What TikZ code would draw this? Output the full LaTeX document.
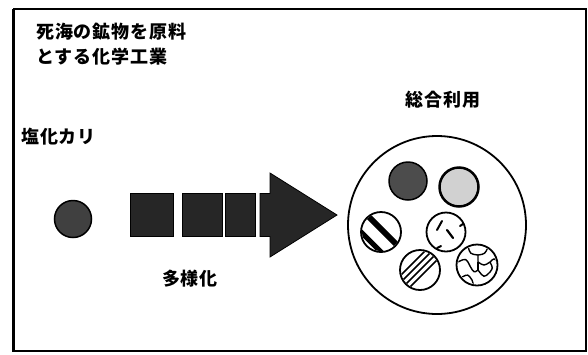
\documentclass[tikz,border=0pt]{standalone}
\usepackage{fontspec}
\usetikzlibrary{calc}
\newfontfamily\jp{Noto Sans CJK JP}[LetterSpace=5]
\begin{document}
\begin{tikzpicture}[x=1pt,y=-1pt,
  lbl/.style={font=\jp\bfseries\fontsize{18}{22}\selectfont, inner sep=0pt},
  sq/.style={fill=black!85, draw=black, line width=0.8pt},
  disc/.style={draw=black, line width=1.8pt, fill=white},
]
\useasboundingbox (0,0) rectangle (588,354);
% frame
\draw[line width=1.5pt] (13,9) -- (586,9) -- (586,351) -- (13,351);
\draw[line width=3pt] (13,8.5) -- (13,351.5);
% titles
\node[lbl, anchor=west] (t1) at (36,32) {死海の鉱物を原料};
\node[lbl, anchor=west] (t2) at (36,57) {とする化学工業};
\node[lbl, anchor=west] (kcl) at (21,137) {塩化カリ};
\node[lbl] (div) at (190,279) {多様化};
\node[lbl] (tot) at (443,100) {総合利用};
% left dot
\node[circle, minimum size=37pt, inner sep=0pt, fill=black!75, draw=black, line width=1.5pt] (dot) at (73,219) {};
% squares
\node[sq, minimum width=43pt, minimum height=43pt, inner sep=0pt] (s1) at (151.5,215) {};
\node[sq, minimum width=40pt, minimum height=43pt, inner sep=0pt] (s2) at (202,215) {};
\node[sq, minimum width=30pt, minimum height=43pt, inner sep=0pt] (s3) at (240,215) {};
% arrow
\coordinate (ab) at (260,215);
\fill[black!85, draw=black, line width=0.8pt] (260,193.5) -- (270,193.5) -- (270,173) -- (337,215) -- (270,257) -- (270,236.5) -- (260,236.5) -- cycle;
% big circle
\node[circle, draw=black, line width=1.8pt, minimum size=178pt, inner sep=0pt] (big) at (437,225) {};
% small circles
\node[circle, minimum size=38pt, inner sep=0pt, fill=black!70, draw=black, line width=1.5pt] (c1) at (408,181) {};
\node[circle, minimum size=39pt, inner sep=0pt, fill=black!18, draw=black, line width=2.5pt] (c2) at (459,187) {};
% c3 stripes
\node[circle, minimum size=40pt, inner sep=0pt, disc] (c3) at (381,232) {};
\begin{scope}
\clip (c3.center) circle (19pt);
\draw[line width=6pt] ($(c3.center)+(-20,-23)$) -- ($(c3.center)+(24,21)$);
\draw[line width=5pt] ($(c3.center)+(-28,-8)$) -- ($(c3.center)+(10,30)$);
\end{scope}
% c4 bars
\node[circle, minimum size=39pt, inner sep=0pt, disc] (c4) at (446,232) {};
\draw[line width=2pt, line cap=round] (437,230) -- (442,221);
\draw[line width=2.2pt, line cap=round] (447,230) -- (453,238);
\draw[line width=2pt, line cap=round] (437,248) -- (441,246);
\draw[line width=2pt, line cap=round] (460,226) -- (463,224);
% c5 diagonal lines
\node[circle, minimum size=40pt, inner sep=0pt, disc] (c5) at (420,270) {};
\begin{scope}
\clip (c5.center) circle (19pt);
\foreach \o in {-14,-7,0,7}
  \draw[line width=1.6pt] ($(c5.center)+(\o,0)+(-20,20)$) -- ($(c5.center)+(\o,0)+(20,-20)$);
\end{scope}
% c6 cells
\node[circle, minimum size=41pt, inner sep=0pt, disc] (c6) at (477,265) {};
\begin{scope}
\clip (c6.center) circle (19pt);
\draw[line width=1.4pt] (468,246) .. controls (470,254) .. (478,255) .. controls (485,254) .. (488,247);
\draw[line width=1.4pt] (458,262) .. controls (466,258) .. (470,266) .. controls (474,273) .. (478,270);
\draw[line width=1.4pt] (478,255) -- (478,262) .. controls (484,266) .. (490,262) .. controls (494,258) .. (498,262);
\draw[line width=1.4pt] (478,270) .. controls (484,278) .. (490,272) .. controls (493,268) .. (490,262);
\draw[line width=1.4pt] (462,277) .. controls (468,274) .. (472,280) -- (474,286);
\draw[line width=1.4pt] (478,270) -- (478,262);
\end{scope}
\end{tikzpicture}
\end{document}
